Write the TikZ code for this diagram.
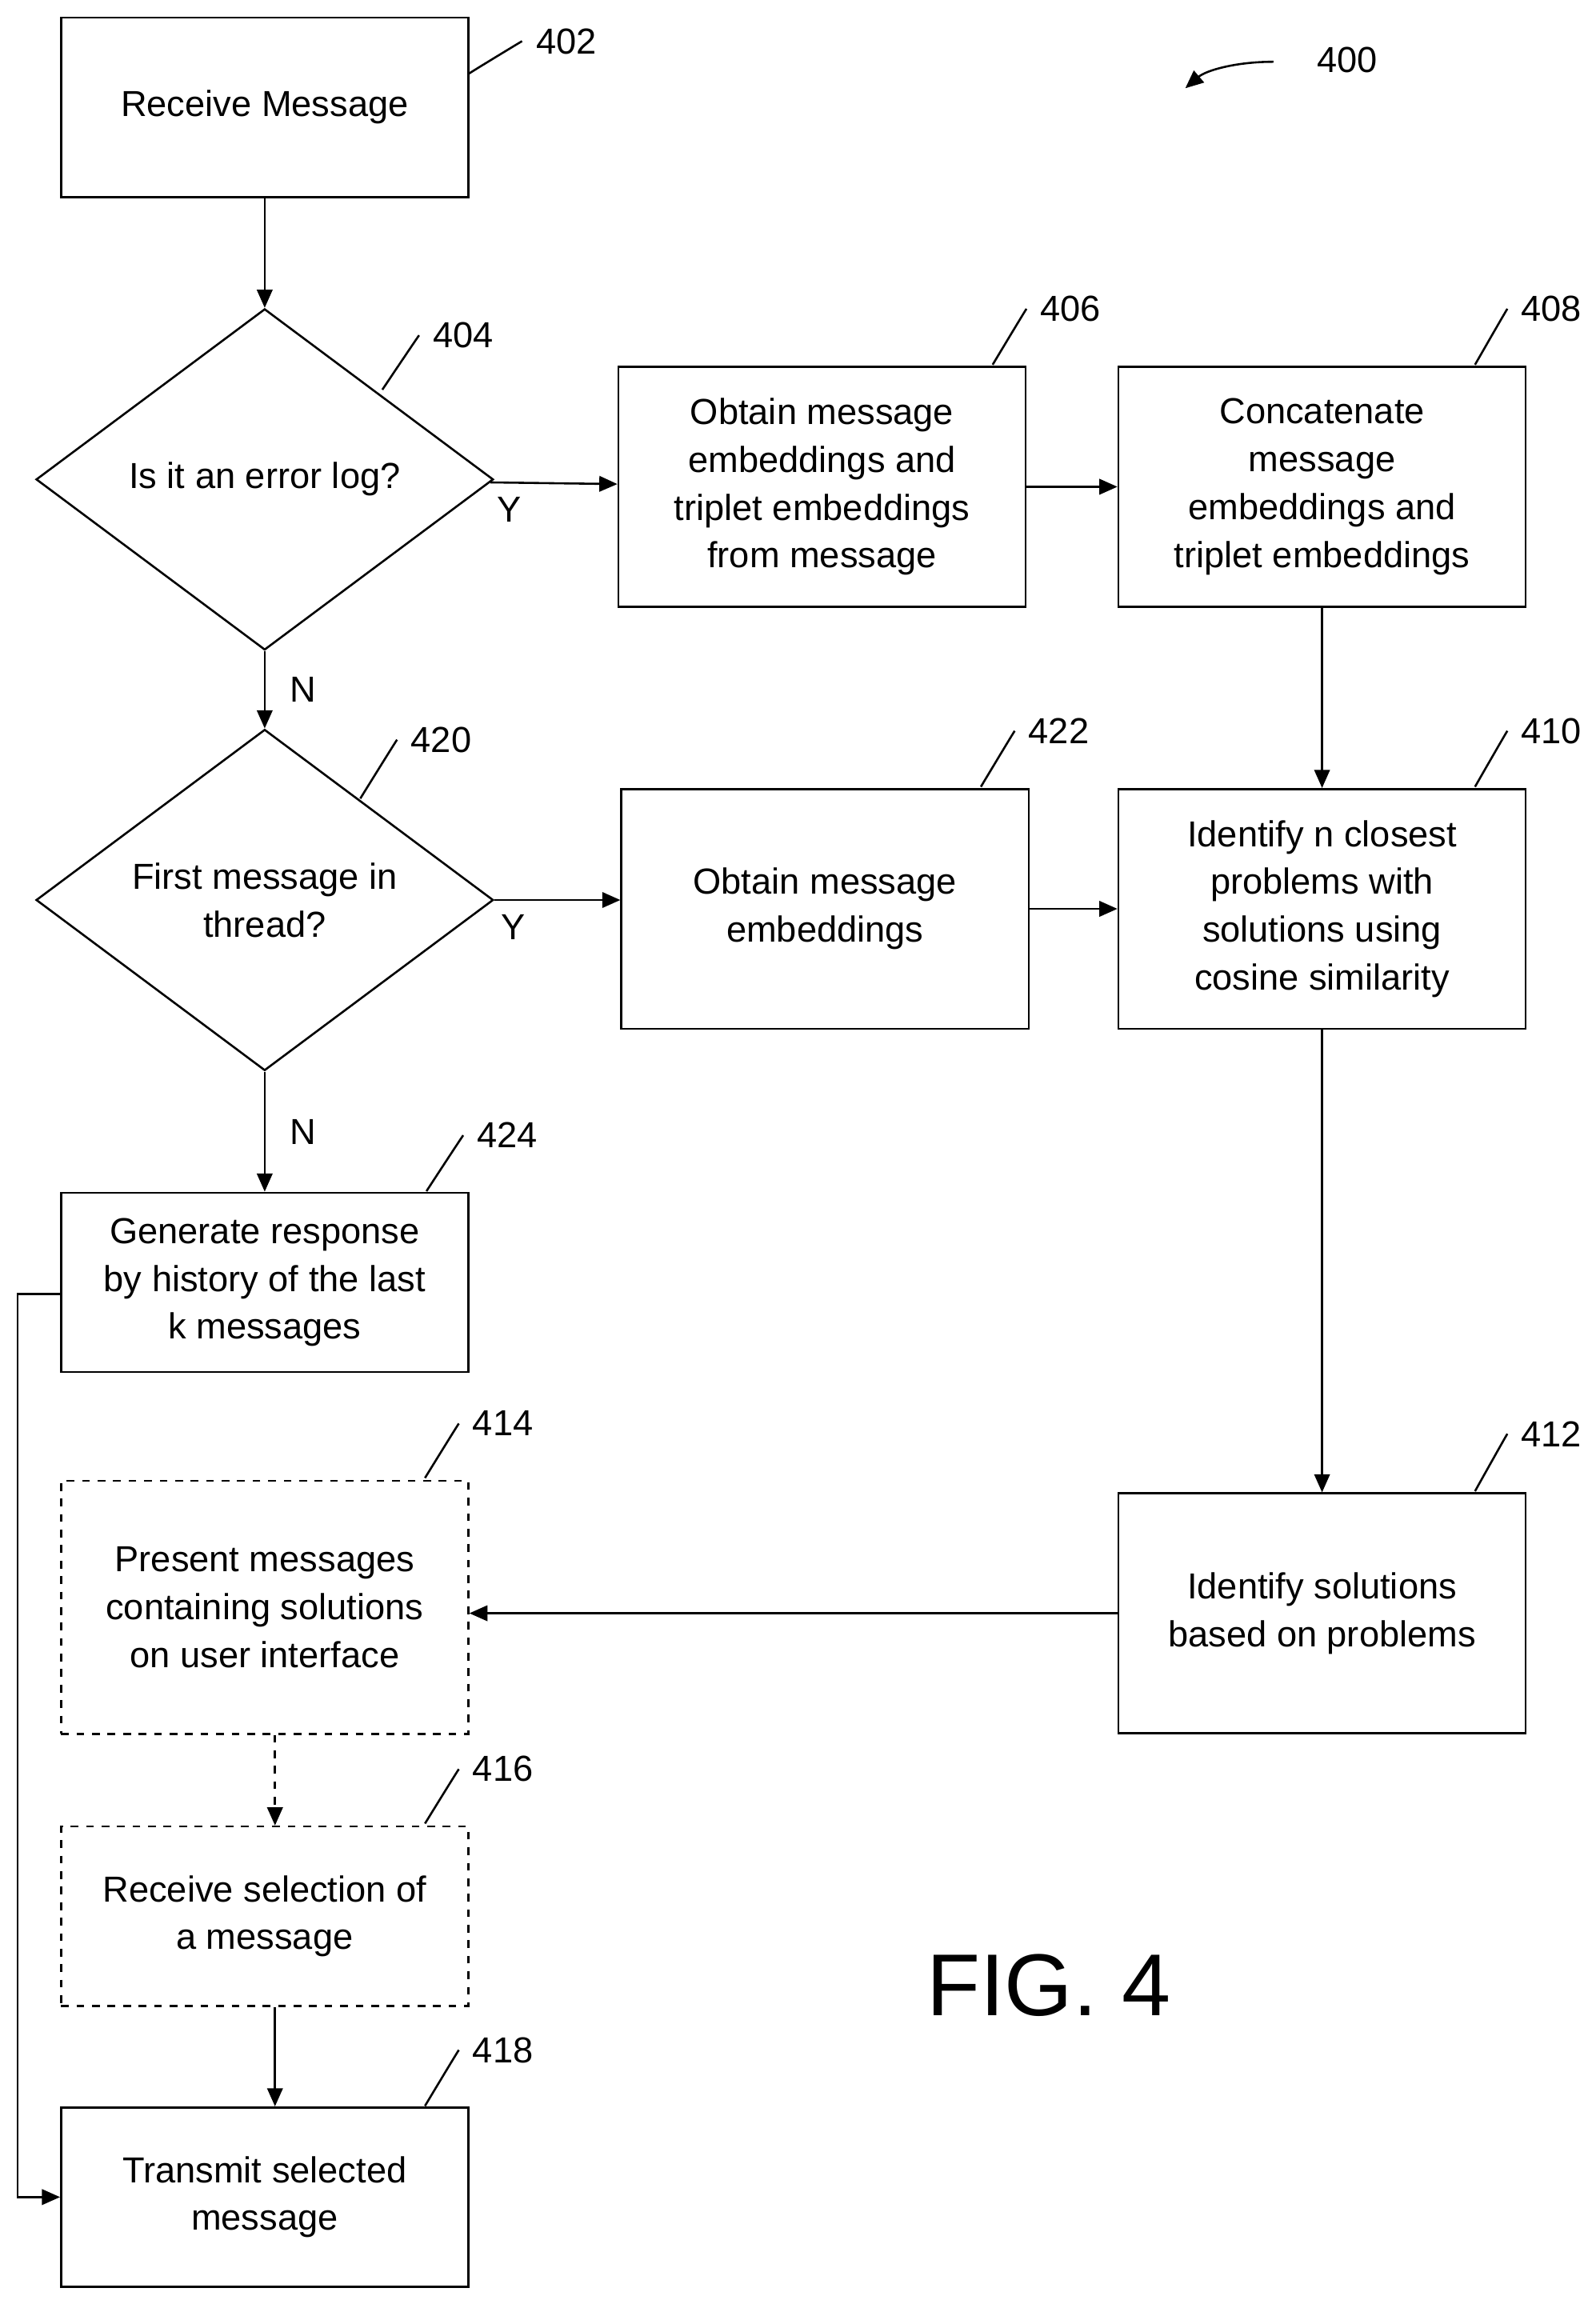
\documentclass[tikz,border=0pt]{standalone}
\usepackage{fontspec}
\setmainfont{Liberation Sans}
\usetikzlibrary{shapes.geometric,arrows.meta}

\tikzset{
  box/.style={draw,thick,minimum width=5.54cm,minimum height=2.44cm,align=center,inner sep=2pt},
  tall/.style={box,minimum height=3.26cm},
  dbox/.style={box,dashed},
  dec/.style={draw,thick,diamond,minimum width=6.22cm,minimum height=4.64cm,inner sep=0pt,align=center},
  arr/.style={thick,-{Triangle[length=7pt,width=6pt]}},
  lead/.style={thick},
  lbl/.style={anchor=center}
}
\newcommand{\refnum}[3]{%
  \draw[lead] #1 .. controls +(0.2,-0.35) and +(-0.25,0.05) .. #2;
  \node[lbl] at #2 [xshift=0.6cm] {#3};}

\begin{document}
\begin{tikzpicture}[x=0.02cm,y=-0.02cm,font=\fontsize{14}{18.5}\selectfont]
  \useasboundingbox (0,0) rectangle (1085,1564);
  % boxes
  \node[box] (n402) at (180,73) {Receive Message};
  \node[dec] (n404) at (180,326) {Is it an error log?};
  \node[tall] (n406) at (559,331) {Obtain message\\embeddings and\\triplet embeddings\\from message};
  \node[tall] (n408) at (899,331) {Concatenate\\message\\embeddings and\\triplet embeddings};
  \node[dec] (n420) at (180,612) {First message in\\thread?};
  \node[tall] (n422) at (561,618) {Obtain message\\embeddings};
  \node[tall] (n410) at (899,618) {Identify n closest\\problems with\\solutions using\\cosine similarity};
  \node[box] (n424) at (180,872) {Generate response\\by history of the last\\k messages};
  \node[dbox,minimum height=3.44cm] (n414) at (180,1093) {Present messages\\containing solutions\\on user interface};
  \node[tall] (n412) at (899,1097) {Identify solutions\\based on problems};
  \node[dbox] (n416) at (180,1303) {Receive selection of\\a message};
  \node[box] (n418) at (180,1494) {Transmit selected\\message};
  \node at (713,1350) {\fontsize{34}{40}\selectfont FIG. 4};
  % connectors
  \draw[arr] (n402) -- (n404);
  \draw[arr] (n404) -- (n406) node[pos=0.15,below=2pt] {Y};
  \draw[arr] (n406.east |- 0,331) -- (n408.west |- 0,331);
  \draw[arr] (n408) -- (n410);
  \draw[arr] (n404) -- (n420) node[midway,right=6pt] {N};
  \draw[arr] (n420) -- (n422.west |- n420) node[pos=0.15,below=2pt] {Y};
  \draw[arr] (n422) -- (n410);
  \draw[arr] (n420) -- (n424) node[midway,right=6pt] {N};
  \draw[arr] (n410) -- (n412);
  \draw[arr] (n412.west |- 0,1097) -- (n414.east |- 0,1097);
  \draw[arr,dashed] ([xshift=0.14cm]n414.south) -- ([xshift=0.14cm]n416.north);
  \draw[arr] ([xshift=0.14cm]n416.south) -- ([xshift=0.14cm]n418.north);
  \coordinate (c424) at (12,880);
  \draw[arr] (n424.west |- c424) -- (c424) |- (n418.west);
  % reference numerals
  \refnum{(319,50)}{(355,28)}{402}
  \refnum{(260,265)}{(285,228)}{404}
  \refnum{(675,248)}{(698,210)}{406}
  \refnum{(1003,248)}{(1025,210)}{408}
  \refnum{(245,543)}{(270,503)}{420}
  \refnum{(667,535)}{(690,497)}{422}
  \refnum{(1003,535)}{(1025,497)}{410}
  \refnum{(290,810)}{(315,772)}{424}
  \refnum{(289,1005)}{(312,968)}{414}
  \refnum{(289,1240)}{(312,1203)}{416}
  \refnum{(289,1432)}{(312,1394)}{418}
  \refnum{(1003,1014)}{(1025,975)}{412}
  \coordinate (c400) at (866,42);
  \draw[arr] (c400) .. controls (840,42) and (820,48) .. (806,60);
  \node at (916,41) {400};
\end{tikzpicture}
\end{document}
